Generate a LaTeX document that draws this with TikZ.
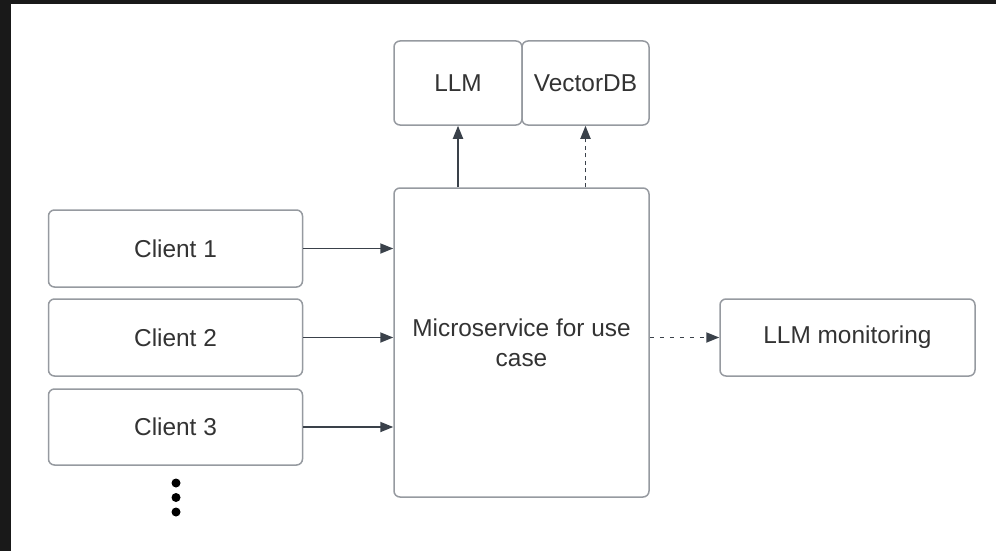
\documentclass[tikz,border=0pt]{standalone}
\usepackage{fontspec}
\setmainfont{Liberation Sans}
\usetikzlibrary{arrows.meta}

\definecolor{frame}{RGB}{25,25,25}
\definecolor{boxline}{RGB}{150,154,160}
\definecolor{link}{RGB}{58,65,74}
\definecolor{label}{RGB}{51,51,51}

\tikzset{
  box/.style={draw=boxline, line width=1.5pt, rounded corners=6pt, fill=white,
    text=label, font=\fontsize{24.4}{30}\selectfont, align=center, inner sep=0pt},
  flow/.style={draw=link, line width=1.8pt, -{Triangle[length=13pt,width=10pt]}},
  dot/.style={circle, fill=black, inner sep=0pt, minimum size=9pt},
}

\begin{document}
\begin{tikzpicture}[x=1pt,y=-1pt]
  % canvas and dark window edges
  \useasboundingbox (0,0) rectangle (996,551);
  \fill[white] (0,0) rectangle (996,551);
  \fill[frame] (0,0) rectangle (996,4);
  \fill[frame] (0,0) rectangle (11,551);

  % clients
  \node[box, minimum width=254pt, minimum height=77pt] (cl1) at (175.5,248.5) {Client 1};
  \node[box, minimum width=254pt, minimum height=77pt] (cl2) at (175.5,337.5) {Client 2};
  \node[box, minimum width=254pt, minimum height=76pt] (cl3) at (175.5,427) {Client 3};

  % central service
  \node[box, minimum width=255pt, minimum height=309pt] (ms) at (521.5,342.5)
    {Microservice for use\\case};

  % back-end services
  \node[box, minimum width=128pt, minimum height=84pt] (llm) at (458,83) {LLM};
  \node[box, minimum width=127pt, minimum height=84pt] (vdb) at (585.5,83) {VectorDB};

  % monitoring
  \node[box, minimum width=255pt, minimum height=77pt] (mon) at (847.5,337.5) {LLM monitoring};

  % more clients
  \node[dot] (d1) at (176,483) {};
  \node[dot] (d2) at (176,497.5) {};
  \node[dot] (d3) at (176,512) {};

  % connectors
  \draw[flow] (cl1.east) -- (cl1.east -| ms.west);
  \draw[flow] (cl2.east) -- (cl2.east -| ms.west);
  \draw[flow] (cl3.east) -- (cl3.east -| ms.west);
  \draw[flow] (llm.south |- ms.north) -- (llm.south);
  \draw[flow, dash pattern=on 4pt off 3.5pt] (vdb.south |- ms.north) -- (vdb.south);
  \draw[flow, dash pattern=on 4pt off 6pt] (ms.east |- mon.west) -- (mon.west);
\end{tikzpicture}
\end{document}
